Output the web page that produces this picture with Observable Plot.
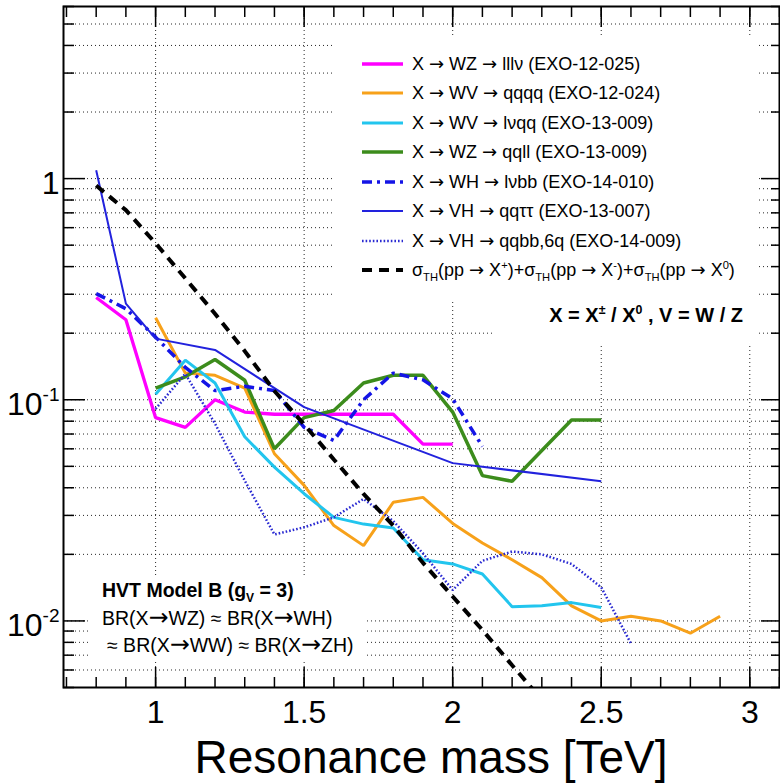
<!DOCTYPE html>
<html>
<head>
<meta charset="utf-8">
<script src="https://cdn.jsdelivr.net/npm/d3@7"></script>
<script src="https://cdn.jsdelivr.net/npm/@observablehq/plot@0.6"></script>
<style>
html,body{margin:0;padding:0;background:#fff;}
#chart{position:relative;width:780px;height:784px;overflow:hidden;font-family:"Liberation Sans",Arial,Helvetica,sans-serif;color:#000;}
#chart > svg{display:block;}
.box{position:absolute;background:#fff;}
.row{position:absolute;left:28px;height:20px;display:flex;align-items:center;font-size:18px;line-height:20px;white-space:nowrap;}
.row svg{margin-right:9px;flex:none;}
sub,sup{font-size:62%;line-height:0;}
.ar{font-family:"DejaVu Sans",sans-serif;}
.hvt{position:absolute;white-space:nowrap;font-size:19.5px;line-height:19px;}
.hvt .ar{font-size:122%;line-height:0;}
</style>
</head>
<body>
<div id="chart"></div>
<script>
// ---------------- data ----------------
const massLllv = [0.8,0.9,1.0,1.1,1.2,1.3,1.4,1.5,1.6,1.7,1.8,1.9,2.0];
const xsLllv   = [0.29,0.23,0.083,0.075,0.100,0.088,0.086,0.086,0.086,0.086,0.086,0.063,0.063];

const massQqqq = [1.0,1.1,1.2,1.3,1.4,1.5,1.6,1.7,1.8,1.9,2.0,2.1,2.2,2.3,2.4,2.5,2.6,2.7,2.8,2.9];
const xsQqqq   = [0.235,0.132,0.129,0.113,0.057,0.041,0.027,0.0219,0.0344,0.0362,0.0276,0.0225,0.0189,0.0157,0.0117,0.0100,0.0105,0.0100,0.0088,0.0105];

const massLvqq = [1.0,1.1,1.2,1.3,1.4,1.5,1.6,1.7,1.8,1.9,2.0,2.1,2.2,2.3,2.4,2.5];
const xsLvqq   = [0.106,0.151,0.119,0.068,0.0496,0.0376,0.0294,0.0274,0.0263,0.0189,0.0181,0.0163,0.0116,0.0117,0.0121,0.0115];

const massQqll = [1.0,1.1,1.2,1.3,1.4,1.5,1.6,1.7,1.8,1.9,2.0,2.1,2.2,2.3,2.4,2.5];
const xsQqll   = [0.113,0.127,0.152,0.1225,0.060,0.083,0.0894,0.119,0.129,0.129,0.088,0.0454,0.0428,0.059,0.081,0.081];

const massLvbb = [0.8,0.9,1.0,1.1,1.2,1.3,1.4,1.5,1.6,1.7,1.8,1.9,2.0,2.1];
const xsLvbb   = [0.302,0.258,0.192,0.140,0.110,0.115,0.110,0.075,0.0655,0.100,0.132,0.123,0.101,0.0615];

const massQqtautau = [0.8,0.9,1.0,1.2,1.5,2.0,2.5];
const xsQqtautau   = [1.09,0.272,0.189,0.168,0.0926,0.0517,0.0428];

const massQqbb = [1.0,1.1,1.2,1.3,1.4,1.5,1.6,1.7,1.8,1.9,2.0,2.1,2.2,2.3,2.4,2.5,2.6];
const xsQqbb   = [0.091,0.131,0.078,0.0431,0.0246,0.0265,0.0294,0.0356,0.0283,0.0202,0.0138,0.0187,0.0206,0.0200,0.0181,0.0142,0.0079];

const massTheory = [0.8,0.9,1.0,1.1,1.2,1.3,1.4,1.5,1.6,1.7,1.8,1.9,2.0,2.1,2.2,2.3];
const xsTheory   = [0.93,0.72,0.51,0.354,0.245,0.166,0.1096,0.0773,0.0537,0.0375,0.0270,0.0183,0.0129,0.0091,0.0063,0.0044];

const AR = '<span class="ar">&rarr;</span>';
const legendLabels = [
  `X ${AR} WZ ${AR} lll&nu; (EXO-12-025)`,
  `X ${AR} WV ${AR} qqqq (EXO-12-024)`,
  `X ${AR} WV ${AR} l&nu;qq (EXO-13-009)`,
  `X ${AR} WZ ${AR} qqll (EXO-13-009)`,
  `X ${AR} WH ${AR} l&nu;bb (EXO-14-010)`,
  `X ${AR} VH ${AR} qq&tau;&tau; (EXO-13-007)`,
  `X ${AR} VH ${AR} qqbb,6q (EXO-14-009)`,
  `&sigma;<sub>TH</sub>(pp ${AR} X<sup>+</sup>)+&sigma;<sub>TH</sub>(pp ${AR} X<sup>-</sup>)+&sigma;<sub>TH</sub>(pp ${AR} X<sup>0</sup>)`
];

const xMajorTicks = [1, 1.5, 2, 2.5, 3];
const xTickLabels = ["1", "1.5", "2", "2.5", "3"];
const yMajorTicks = [0.01, 0.1, 1];
const yTickLabels = ["10^-2", "10^-1", "1"];
const xTitle = "Resonance mass [TeV]";

// ---------------- styles ----------------
const seriesStyle = [
  {mass: massLllv, xs: xsLllv, stroke: "#ff00ff", width: 3.3, dash: null},
  {mass: massQqqq, xs: xsQqqq, stroke: "#f7a11a", width: 3, dash: null},
  {mass: massLvqq, xs: xsLvqq, stroke: "#22c5ee", width: 3, dash: null},
  {mass: massQqll, xs: xsQqll, stroke: "#3c8c1c", width: 3.5, dash: null},
  {mass: massLvbb, xs: xsLvbb, stroke: "#1414e6", width: 3.5, dash: "10,5,3,5"},
  {mass: massQqtautau, xs: xsQqtautau, stroke: "#2222dd", width: 2, dash: null},
  {mass: massQqbb, xs: xsQqbb, stroke: "#2a2ad2", width: 2.5, dash: "1.6,2"},
  {mass: massTheory, xs: xsTheory, stroke: "#000000", width: 4, dash: "10,7"}
];

// tick positions (structural)
const xMinorTicks = d3.range(7, 32).map(d => d / 10);
const yMinorTicks = [];
for (const dec of [0.001, 0.01, 0.1, 1]) for (let k = 2; k <= 9; k++) {
  const v = +(k * dec).toPrecision(3);
  if (v >= 0.005 && v <= 6) yMinorTicks.push(v);
}
const yAllTicks = [...yMinorTicks, ...yMajorTicks];
const xLabelMap = new Map(xMajorTicks.map((d, i) => [d, xTickLabels[i]]));
const yLabelMap = new Map(yMajorTicks.map((d, i) => [d, yTickLabels[i]]));
const blank = () => "";

const lineMarks = seriesStyle.map(s => Plot.line(s.xs, {
  x: s.mass, y: s.xs, stroke: s.stroke, strokeWidth: s.width,
  strokeDasharray: s.dash, strokeLinejoin: "miter", strokeLinecap: "butt", clip: true
}));

const tickStyle = {stroke: "#000", strokeWidth: 1.5, label: null, tickFormat: blank};

const svg = Plot.plot({
  width: 780, height: 784,
  marginLeft: 63, marginRight: 1, marginTop: 6, marginBottom: 97,
  x: {domain: [0.69, 3.1]},
  y: {type: "log", domain: [0.005, 6]},
  style: {fontFamily: '"Liberation Sans", Arial, Helvetica, sans-serif', background: "white", color: "black", overflow: "visible"},
  marks: [
    Plot.gridY(yAllTicks, {stroke: "#000", strokeOpacity: 0.85, strokeWidth: 1, strokeDasharray: "1,3"}),
    Plot.gridX(xMajorTicks, {stroke: "#000", strokeOpacity: 0.85, strokeWidth: 1, strokeDasharray: "1,3"}),
    ...lineMarks,
    Plot.axisX(xMinorTicks, {...tickStyle, anchor: "bottom", tickSize: -10}),
    Plot.axisX(xMajorTicks, {...tickStyle, anchor: "bottom", tickSize: -20}),
    Plot.axisX(xMinorTicks, {...tickStyle, anchor: "top", tickSize: -10}),
    Plot.axisX(xMajorTicks, {...tickStyle, anchor: "top", tickSize: -20}),
    Plot.axisY(yMinorTicks, {...tickStyle, anchor: "left", tickSize: -11}),
    Plot.axisY(yMajorTicks, {...tickStyle, anchor: "left", tickSize: -22}),
    Plot.axisY(yMinorTicks, {...tickStyle, anchor: "right", tickSize: -9}),
    Plot.axisY(yMajorTicks, {...tickStyle, anchor: "right", tickSize: -19}),
    Plot.axisX(xMajorTicks, {anchor: "bottom", tickSize: 0, tickPadding: 13, fontSize: 32,
      tickFormat: d => xLabelMap.get(d), label: xTitle, labelAnchor: "center", labelArrow: "none"}),
    Plot.axisY(yMajorTicks, {anchor: "left", tickSize: 0, tickPadding: 4, fontSize: 32, dy: 5,
      tickFormat: d => yLabelMap.get(d), label: null}),
    Plot.frame({stroke: "#000", strokeWidth: 2})
  ]
});

// superscripts on y tick labels
d3.select(svg).selectAll('g[aria-label="y-axis tick label"] text').each(function () {
  const s = this.textContent;
  if (s.includes("^")) {
    const [b, e] = s.split("^");
    this.textContent = b;
    d3.select(this).append("tspan").attr("dy", -14).attr("font-size", 19).text(e);
  }
});
// x axis title placement
d3.select(svg).selectAll('g[aria-label="x-axis label"]').each(function () {
  d3.select(this).attr("transform", null);
  d3.select(this).selectAll("text")
    .attr("transform", "translate(431,773)")
    .attr("x", null).attr("y", null).attr("dy", null)
    .attr("text-anchor", "middle")
    .attr("font-size", 46);
});

const chart = document.getElementById("chart");
chart.appendChild(svg);

// ---------------- legend overlays ----------------
const legend = document.createElement("div");
legend.className = "box";
Object.assign(legend.style, {left: "334px", top: "36px", width: "422px", height: "266px"});
seriesStyle.forEach((s, i) => {
  const row = document.createElement("div");
  row.className = "row";
  row.style.top = (27.5 + i * 29.5 - 10) + "px";
  const dash = s.dash ? ` stroke-dasharray="${s.dash}"` : "";
  row.innerHTML = `<svg width="41" height="10"><line x1="0" x2="41" y1="5" y2="5" stroke="${s.stroke}" stroke-width="${s.width}"${dash}/></svg><span>${legendLabels[i]}</span>`;
  legend.appendChild(row);
});
chart.appendChild(legend);

const note = document.createElement("div");
note.className = "box";
Object.assign(note.style, {left: "493px", top: "302px", width: "263px", height: "44px"});
note.innerHTML = `<div style="position:absolute;right:13px;top:4px;font-weight:bold;font-size:20px;line-height:19px;white-space:nowrap;">X = X<sup>&plusmn;</sup> / X<sup>0</sup> , V = W / Z</div>`;
chart.appendChild(note);

const hvt = document.createElement("div");
hvt.className = "box";
Object.assign(hvt.style, {left: "88px", top: "577px", width: "278px", height: "85px"});
hvt.innerHTML =
  `<div class="hvt" style="left:14px;top:4px;font-weight:bold;">HVT Model B (g<sub>V</sub> = 3)</div>` +
  `<div class="hvt" style="left:14px;top:32px;">BR(X${AR}WZ) &asymp; BR(X${AR}WH)</div>` +
  `<div class="hvt" style="left:19px;top:59px;">&asymp; BR(X${AR}WW) &asymp; BR(X${AR}ZH)</div>`;
chart.appendChild(hvt);
</script>
</body>
</html>
